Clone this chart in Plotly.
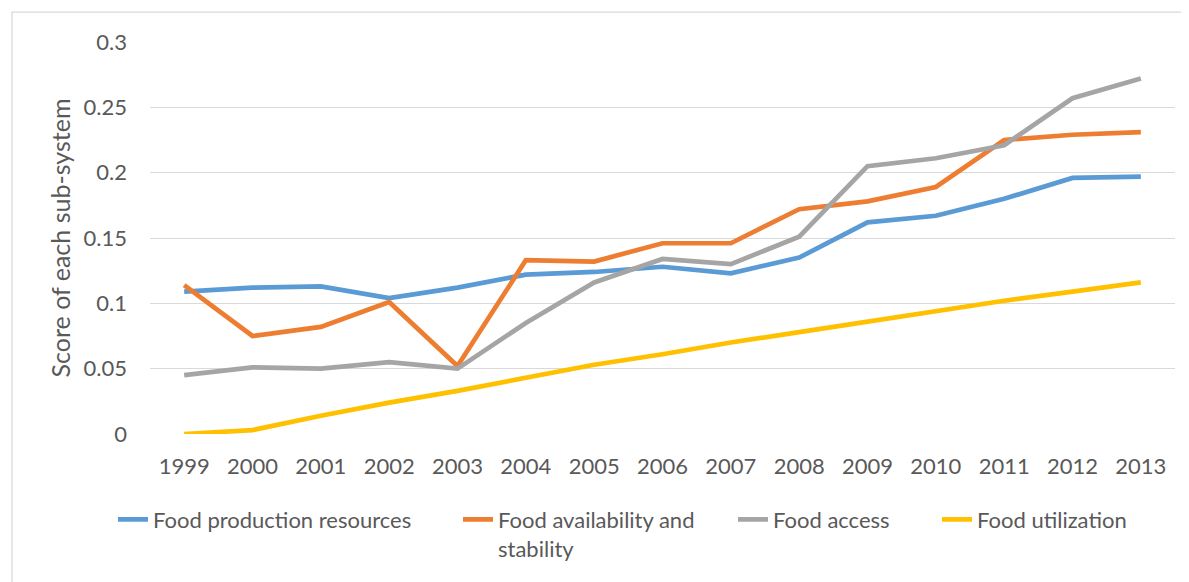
import plotly.graph_objects as go

years = [1999, 2000, 2001, 2002, 2003, 2004, 2005, 2006, 2007, 2008, 2009, 2010, 2011, 2012, 2013]
series_names = ["Food production resources", "Food availability and<br>stability", "Food access", "Food utilization"]
production = [0.109, 0.112, 0.113, 0.104, 0.112, 0.122, 0.124, 0.128, 0.123, 0.135, 0.162, 0.167, 0.180, 0.196, 0.197]
availability = [0.114, 0.075, 0.082, 0.101, 0.052, 0.133, 0.132, 0.146, 0.146, 0.172, 0.178, 0.189, 0.225, 0.229, 0.231]
access = [0.045, 0.051, 0.050, 0.055, 0.050, 0.085, 0.116, 0.134, 0.130, 0.151, 0.205, 0.211, 0.221, 0.257, 0.272]
utilization = [0.000, 0.003, 0.014, 0.024, 0.033, 0.043, 0.053, 0.061, 0.070, 0.078, 0.086, 0.094, 0.102, 0.109, 0.116]
y_ticks = [0, 0.05, 0.1, 0.15, 0.2, 0.25, 0.3]
y_tick_text = ["0", "0.05", "0.1", "0.15", "0.2", "0.25", "0.3"]
colors = ["#5B9BD5", "#ED7D31", "#A5A5A5", "#FFC000"]

FONT = "Lato, 'Open Sans', sans-serif"
TXT = "#595959"

# the page body has an 8px margin; lay out in screen coordinates minus that offset
OFF = 8
W, H = 1189 - OFF, 582 - OFF
L = 150 - OFF
T = 42 - OFF
R = W - (1175 - OFF)
B = H - (436 - OFF)
pw, ph = W - L - R, H - T - B

def px(x):
    return (x - OFF - L) / pw

def py(y):
    return (H - B - (y - OFF)) / ph

legend_ids = ["legend", "legend2", "legend3", "legend4"]
text_starts = [153, 498, 773, 977]

fig = go.Figure()
for name, vals, col, lid in zip(series_names, [production, availability, access, utilization], colors, legend_ids):
    fig.add_trace(go.Scatter(x=years, y=vals, name=name, mode="lines", legend=lid,
                             showlegend=True, line=dict(color=col, width=4.7)))

legend_common = dict(orientation="h", xanchor="left", yanchor="top", y=py(501),
                     font=dict(family=FONT, size=22, color=TXT), bgcolor="rgba(0,0,0,0)",
                     itemwidth=30, valign="top", visible=True)
legend_layout = {}
for lid, ts in zip(legend_ids, text_starts):
    legend_layout[lid] = dict(legend_common, x=px(ts - 40))

fig.update_layout(
    width=W, height=H,
    showlegend=True,
    margin=dict(l=L, r=R, t=T, b=B),
    paper_bgcolor="white", plot_bgcolor="white",
    font=dict(family=FONT, size=22, color=TXT),
    xaxis=dict(range=[1998.5, 2013.5], tickmode="array", tickvals=years,
               ticktext=[str(y) for y in years], showgrid=False, zeroline=False,
               showline=False, ticks="", ticklabelstandoff=17,
               tickfont=dict(family=FONT, size=22, color=TXT)),
    yaxis=dict(range=[0, 0.3], tickmode="array", tickvals=y_ticks, ticktext=y_tick_text,
               showgrid=True, gridcolor="#D9D9D9", gridwidth=1.3, zeroline=False,
               showline=False, ticks="", ticklabelstandoff=22,
               tickfont=dict(family=FONT, size=22, color=TXT),
               title=dict(text="Score of each sub-system", standoff=5,
                          font=dict(family=FONT, size=25, color=TXT))),
    shapes=[dict(type="rect", xref="paper", yref="paper",
                 x0=px(12), x1=px(1210), y0=py(610), y1=py(12),
                 line=dict(color="#D9D9D9", width=1.3), fillcolor="rgba(0,0,0,0)", layer="below")],
    **legend_layout,
)

fig.write_html("out.html")
